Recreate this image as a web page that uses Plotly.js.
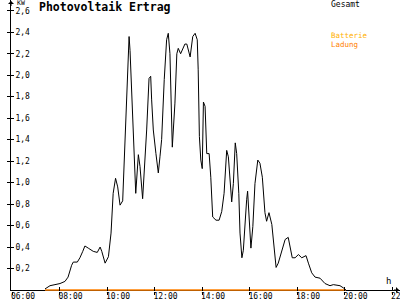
<!DOCTYPE html>
<html>
<head>
<meta charset="utf-8">
<script src="https://cdn.plot.ly/plotly-3.0.1.min.js"></script>
<style>html,body{margin:0;padding:0;background:#fff;}#chart{width:400px;height:300px;}</style>
</head>
<body>
<div id="chart"></div>
<script>
// Gesamt (kW) over time of day (decimal hours)
const gesamtHours = [7.39,7.60,7.81,8.02,8.23,8.36,8.51,8.58,8.75,8.86,8.98,9.07,9.21,9.42,9.59,9.71,9.78,9.92,10.06,10.17,10.26,10.36,10.45,10.55,10.66,10.83,10.93,10.97,11.08,11.14,11.21,11.32,11.39,11.50,11.60,11.67,11.77,11.84,11.88,11.95,12.06,12.16,12.23,12.30,12.41,12.51,12.58,12.65,12.75,12.86,12.94,13.00,13.10,13.28,13.36,13.50,13.61,13.71,13.80,13.84,13.89,13.95,14.01,14.06,14.13,14.20,14.30,14.37,14.45,14.59,14.72,14.83,14.93,15.04,15.11,15.18,15.25,15.32,15.40,15.46,15.55,15.60,15.68,15.74,15.81,15.88,15.92,15.99,16.06,16.14,16.23,16.35,16.44,16.54,16.65,16.72,16.82,16.94,17.03,17.12,17.21,17.36,17.50,17.63,17.71,17.80,17.92,18.06,18.20,18.38,18.48,18.62,18.76,18.97,19.18,19.39,19.53,19.81,19.95,20.06];
const gesamtValues = [0.01,0.04,0.05,0.06,0.08,0.12,0.23,0.26,0.26,0.30,0.36,0.41,0.39,0.36,0.35,0.40,0.36,0.25,0.31,0.53,0.90,1.04,0.96,0.79,0.83,1.89,2.36,2.23,1.61,1.27,0.90,1.26,1.15,0.85,1.21,1.49,1.97,1.99,1.77,1.49,1.27,1.09,1.24,1.40,1.96,2.33,2.39,2.20,1.33,1.74,2.20,2.25,2.20,2.29,2.29,2.17,2.36,2.39,2.33,2.05,1.43,1.21,1.13,1.75,1.71,1.27,1.27,1.05,0.68,0.65,0.65,0.73,0.90,1.30,1.24,1.05,0.82,0.99,1.37,1.27,0.90,0.53,0.30,0.37,0.65,0.84,0.92,0.65,0.39,0.59,0.99,1.21,1.18,1.05,0.72,0.64,0.72,0.61,0.43,0.21,0.25,0.36,0.47,0.49,0.40,0.30,0.30,0.33,0.30,0.32,0.25,0.16,0.12,0.11,0.06,0.04,0.05,0.04,0.02,0.00];
// Batterie Ladung (kW)
const ladungHours = [7.39,20.06];
const ladungValues = [0,0];
// Axis ticks
const xTickVals = [6,8,10,12,14,16,18,20,22];
const xTickText = ["06:00","08:00","10:00","12:00","14:00","16:00","18:00","20:00","22:00"];
const yTickVals = [0.2,0.4,0.6,0.8,1.0,1.2,1.4,1.6,1.8,2.0,2.2,2.4,2.6];

const W = 400, H = 300, L = 11, B = 9;
const pw = W - L, ph = H - B;
const px = x => (x - L) / pw;          // paper x from pixel
const py = y => (H - B - y) / ph;      // paper y from pixel
const mono = "DejaVu Sans Mono, monospace";

const traces = [
  {x: ladungHours, y: ladungValues, type: 'scatter', mode: 'lines', name: 'Batterie Ladung',
   line: {color: '#FF8000', width: 1.3}, hoverinfo: 'skip', showlegend: false},
  {x: gesamtHours, y: gesamtValues, type: 'scatter', mode: 'lines', name: 'Gesamt',
   line: {color: '#000000', width: 1}, hoverinfo: 'skip', showlegend: false},
  {x: [], y: [], xaxis: 'x2', yaxis: 'y2', type: 'scatter', showlegend: false, hoverinfo: 'skip'}
];

const xr = [6 + (L - 12) / 23.75, 6 + (W - 12) / 23.75];
const yr = [-1 / 107.4, 290 / 107.4];

const layout = {
  width: W, height: H,
  margin: {l: L, r: 0, t: 0, b: B, pad: 0},
  paper_bgcolor: '#ffffff', plot_bgcolor: '#ffffff',
  separators: ',.',
  showlegend: false,
  font: {family: mono, size: 8, color: '#000'},
  title: {text: 'Photovoltaik Ertrag', x: 39 / W, y: 1 - 7 / H, xanchor: 'left', yanchor: 'middle',
          font: {family: mono, size: 11.5, weight: 'bold', color: '#000'}},
  xaxis: {range: xr, tickvals: xTickVals, ticktext: xTickText, showgrid: false, zeroline: false,
          showline: false, ticks: 'outside', ticklen: 3, tickcolor: '#000',
          ticklabelstandoff: -6, ticklabelshift: 11, ticklabeloverflow: 'allow',
          tickfont: {family: mono, size: 8, color: '#000'}, automargin: false, fixedrange: true},
  yaxis: {range: yr, tickvals: yTickVals, tickformat: '.1f', showgrid: false,
          zeroline: true, zerolinecolor: '#000', zerolinewidth: 1,
          showline: true, linecolor: '#000', linewidth: 1, ticks: 'outside', ticklen: 3, tickcolor: '#000',
          ticklabelposition: 'inside', ticklabelstandoff: 3, ticklabeloverflow: 'allow',
          tickfont: {family: mono, size: 8, color: '#000'},
          automargin: false, fixedrange: true},
  xaxis2: {range: xr, overlaying: 'x', tickvals: xTickVals, showticklabels: false, showgrid: false,
           zeroline: false, showline: false, ticks: 'inside', ticklen: 4, tickcolor: '#000', fixedrange: true},
  yaxis2: {range: yr, overlaying: 'y', tickvals: yTickVals, showticklabels: false, showgrid: false,
           zeroline: false, showline: false, ticks: 'inside', ticklen: 3, tickcolor: '#000', fixedrange: true},
  annotations: [
    {xref: 'paper', yref: 'paper', x: px(15), y: py(3.5), text: 'KW', showarrow: false, xanchor: 'left', yanchor: 'middle',
     font: {family: mono, size: 6.5, color: '#000'}},
    {xref: 'paper', yref: 'paper', x: px(384), y: py(281), text: 'h', showarrow: false, xanchor: 'left', yanchor: 'middle',
     font: {family: mono, size: 9, color: '#000'}},
    {xref: 'paper', yref: 'paper', x: px(329), y: py(4.5), text: 'Gesamt', showarrow: false, xanchor: 'left', yanchor: 'middle',
     font: {family: mono, size: 8, color: '#000'}},
    {xref: 'paper', yref: 'paper', x: px(329), y: py(35.5), text: 'Batterie', showarrow: false, xanchor: 'left', yanchor: 'middle',
     font: {family: mono, size: 7.5, color: '#FFB000'}},
    {xref: 'paper', yref: 'paper', x: px(329), y: py(44), text: 'Ladung', showarrow: false, xanchor: 'left', yanchor: 'middle',
     font: {family: mono, size: 7.5, color: '#FF8000'}},
    {xref: 'paper', yref: 'paper', x: px(11), y: py(0.5), ax: 0, ay: 7, text: '', showarrow: true,
     arrowhead: 1, arrowsize: 1, arrowwidth: 1, arrowcolor: '#000'},
    {xref: 'paper', yref: 'paper', x: px(399.5), y: py(290), ax: -7, ay: 0, text: '', showarrow: true,
     arrowhead: 1, arrowsize: 1, arrowwidth: 1, arrowcolor: '#000'}
  ]
};

Plotly.newPlot('chart', traces, layout, {displayModeBar: false, staticPlot: true});
</script>
</body>
</html>
